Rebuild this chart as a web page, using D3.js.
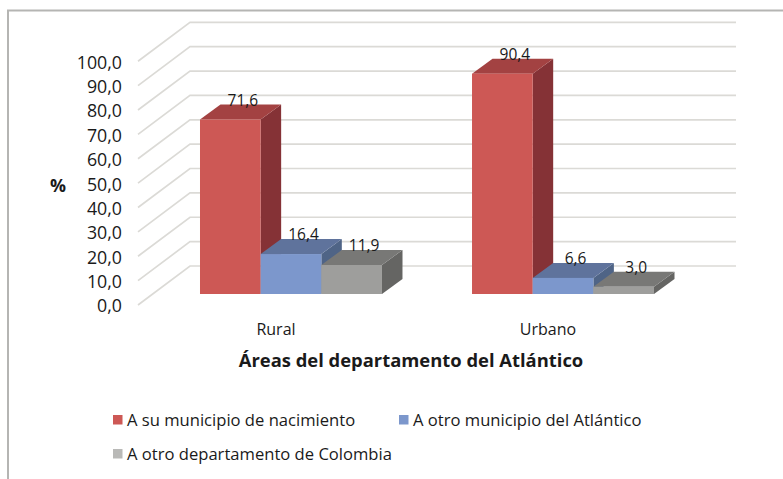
<!DOCTYPE html>
<html><head><meta charset="utf-8">
<script src="https://cdn.jsdelivr.net/npm/d3@7/dist/d3.min.js"></script>
<style>html,body{margin:0;padding:0;background:#fff}svg{display:block}text{font-family:"Open Sans",sans-serif;fill:#1a1a1a}</style>
</head><body><svg id="c" width="783" height="479"></svg>
<script>
const categories = ["Rural","Urbano"];
const seriesNames = ["A su municipio de nacimiento","A otro municipio del Atlántico","A otro departamento de Colombia"];
const municipioNacimiento = [71.6,90.4];
const otroMunicipio = [16.4,6.6];
const otroDepartamento = [11.9,3.0];
const seriesValues = [municipioNacimiento,otroMunicipio,otroDepartamento];
const tickValues = [0,10,20,30,40,50,60,70,80,90,100];
const frontColors = ["#cd5855","#7c97cc","#9e9e9c"];
const topColors = ["#a34242","#5f739c","#787876"];
const sideColors = ["#853236","#4f6486","#656563"];
const legendColors = ["#cd5855","#7c97cc","#b9b9b7"];
const fmt = v => d3.format(".1f")(v).replace(".",",");

const svg = d3.select("#c");
const y = d3.scaleLinear().domain([0,100]).range([294,50.3]);
const x0 = d3.scaleBand().domain(categories).range([155,699]).paddingInner(0.331).paddingOuter(0.1654);
const x1 = d3.scaleBand().domain(d3.range(3)).range([0,x0.bandwidth()]);
const wallLeft = 138, wallDx = 52, wallDy = -39, wallRight = 736, wallFrontY = v => y(v)+11;
const barDx = 20.5, barDy = -15;

// frame
svg.append("path").attr("d","M8,479V10.5H783").attr("fill","none").attr("stroke","#b5b5b3").attr("stroke-width",2);

// gridlines
const grid = svg.append("g").attr("fill","none").attr("stroke","#dbdad6").attr("stroke-width",1.7);
tickValues.forEach(t=>{
  const yf = wallFrontY(t);
  grid.append("path").attr("d",`M${wallLeft},${yf}L${wallLeft+wallDx},${yf+wallDy}H${wallRight}`);
});

// y tick labels
svg.append("g").selectAll("text").data(tickValues).join("text")
  .attr("x",122).attr("y",d=>wallFrontY(d)+1).attr("dy","0.36em").attr("text-anchor","end")
  .attr("font-size",17.8).text(fmt);
svg.append("text").attr("x",58).attr("y",186).attr("dy","0.36em").attr("text-anchor","middle")
  .attr("font-size",17.8).attr("font-weight",700).text("%");

// bars
categories.forEach((c,ci)=>{
  seriesValues.forEach((vals,si)=>{
    const v = vals[ci], bx = x0(c)+x1(si), w = x1.bandwidth(), t = y(v), b = y(0);
    const g = svg.append("g");
    g.append("path").attr("fill",sideColors[si]).attr("d",`M${bx+w},${t}l${barDx},${barDy}V${b+barDy}l${-barDx},${-barDy}Z`);
    g.append("path").attr("fill",topColors[si]).attr("d",`M${bx},${t}l${barDx},${barDy}h${w}l${-barDx},${-barDy}Z`);
    g.append("rect").attr("x",bx).attr("y",t).attr("width",w).attr("height",b-t).attr("fill",frontColors[si]);
  });
});
// value labels
categories.forEach((c,ci)=>{
  seriesValues.forEach((vals,si)=>{
    const v = vals[ci];
    svg.append("text").attr("x",x0(c)+x1(si)+x1.bandwidth()/2+12.5).attr("y",y(v)-19.5).attr("dy","0.36em")
      .attr("text-anchor","middle").attr("font-size",15.5).attr("fill","#000").text(fmt(v));
  });
});

// category labels
svg.append("g").selectAll("text").data(categories).join("text")
  .attr("x",d=>x0(d)+x0.bandwidth()/2-15).attr("y",329).attr("dy","0.36em").attr("text-anchor","middle")
  .attr("font-size",16).text(d=>d);

// axis title
svg.append("text").attr("x",411).attr("y",360).attr("dy","0.36em").attr("text-anchor","middle")
  .attr("font-size",18.4).attr("font-weight",700).attr("fill","#000").text("Áreas del departamento del Atlántico");

// legend
const legendPos = [[113,420],[399,420],[113,454]];
seriesNames.forEach((n,i)=>{
  const [lx,ly] = legendPos[i];
  svg.append("rect").attr("x",lx).attr("y",ly-5).attr("width",9.5).attr("height",9.5).attr("fill",legendColors[i]);
  svg.append("text").attr("x",lx+14).attr("y",ly).attr("dy","0.36em").attr("font-size",16.6).text(n);
});
</script></body></html>
